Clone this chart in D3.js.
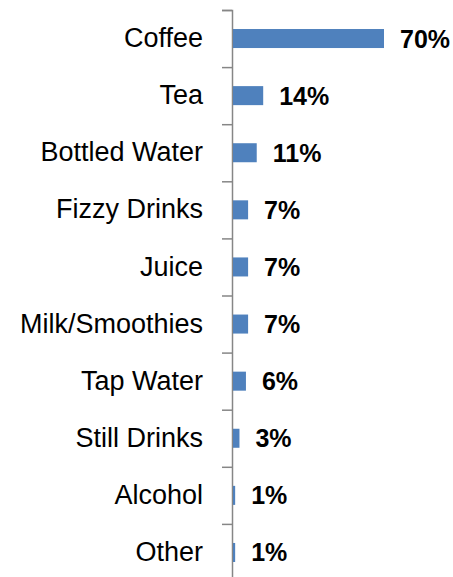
<!DOCTYPE html>
<html>
<head>
<meta charset="utf-8">
<script src="https://cdn.jsdelivr.net/npm/d3@7"></script>
<style>
  body { margin: 0; background: white; }
</style>
</head>
<body>
<div id="container"></div>
<script>
// drinks data
let drinks = ["Coffee", "Tea", "Bottled Water", "Fizzy Drinks", "Juice",
  "Milk/Smoothies", "Tap Water", "Still Drinks", "Alcohol", "Other"];
let shares = [70, 14, 11, 7, 7, 7, 6, 3, 1, 1];
let shareLabels = ["70%", "14%", "11%", "7%", "7%", "7%", "6%", "3%", "1%", "1%"];

let w = 453;
let h = 577;
let axisX = 232;
let yTop = 10;
let yBottom = 581;

let viz = d3.select("#container")
  .append("svg")
    .attr("width", w)
    .attr("height", h)
    .style("font-family", "'Liberation Sans', Arial, sans-serif")
;

let data = drinks.map(function(d, i){
  return {drink: d, share: shares[i], label: shareLabels[i]};
});

// x scale: 70% is about 151px
let xScale = d3.scaleLinear().domain([0, 70]).range([axisX, axisX + 151]);

// y scale for the bars
let yScale = d3.scaleBand()
  .domain(drinks)
  .range([yTop, yBottom])
  .paddingInner(0.667)
  .paddingOuter(0.333)
;

// category labels
let labelAxis = d3.axisLeft(d3.scaleBand().domain(drinks).range([yTop, yBottom]))
  .tickSize(0)
  .tickPadding(29);
let labelGroup = viz.append("g")
  .attr("transform", "translate(" + axisX + ",0)")
  .call(labelAxis);
labelGroup.select(".domain").remove();
labelGroup.selectAll("text")
  .attr("font-size", "27px")
  .attr("font-family", "'Liberation Sans', Arial, sans-serif")
  .attr("fill", "#000");

// tick marks sit between the categories
let boundScale = d3.scaleLinear().domain([0, drinks.length]).range([yTop, yBottom]);
let tickAxis = d3.axisLeft(boundScale)
  .ticks(drinks.length)
  .tickSize(10)
  .tickSizeOuter(10)
  .tickFormat("");
let tickGroup = viz.append("g")
  .attr("transform", "translate(" + axisX + ",0)")
  .call(tickAxis);
tickGroup.selectAll("line, path")
  .attr("stroke", "#868686")
  .attr("stroke-width", 1.5);

// bars
viz.append("g").selectAll("rect")
  .data(data)
  .enter()
  .append("rect")
    .attr("x", xScale(0) + 1)
    .attr("y", function(d){ return yScale(d.drink); })
    .attr("width", function(d){ return xScale(d.share) - xScale(0); })
    .attr("height", yScale.bandwidth())
    .attr("fill", "#4F81BD")
;

// value labels
viz.append("g").selectAll("text")
  .data(data)
  .enter()
  .append("text")
    .text(function(d){ return d.label; })
    .attr("x", function(d){ return xScale(d.share) + 17; })
    .attr("y", function(d){ return yScale(d.drink) + yScale.bandwidth() / 2; })
    .attr("dy", "0.36em")
    .attr("font-size", "25px")
    .attr("font-weight", "bold")
    .attr("fill", "#000")
;
</script>
</body>
</html>
